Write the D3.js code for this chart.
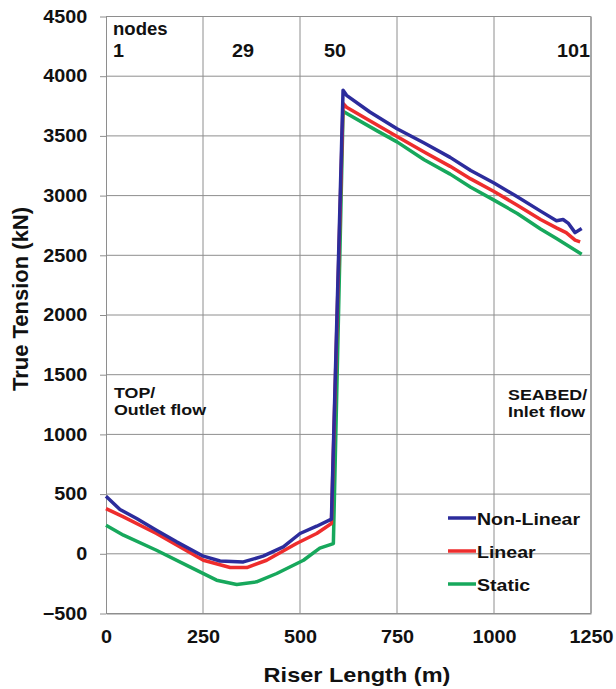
<!DOCTYPE html>
<html>
<head>
<meta charset="utf-8">
<script src="https://cdn.jsdelivr.net/npm/d3@7"></script>
<style>
  body { margin: 0; background: #fff; }
  text { font-family: "Liberation Sans", Arial, sans-serif; font-weight: bold; fill: #111; }
</style>
</head>
<body>
<svg id="chart" width="616" height="689"></svg>
<script>
// Riser length (m) and true tension (kN) along the riser, per analysis type
const nonLinearLength  = [0, 36, 79, 130, 182, 251, 294, 354, 405, 457, 500, 543, 581,
                          611, 620, 680, 750, 820, 887, 940, 1000, 1060, 1120, 1161, 1178, 1191, 1209, 1226];
const nonLinearTension = [482, 371, 296, 198, 100, -20, -60, -68, -20, 58, 170, 231, 290,
                          3883, 3840, 3700, 3560, 3440, 3320, 3210, 3105, 2990, 2870, 2790, 2800, 2770, 2690, 2725];

const linearLength  = [0, 45, 130, 251, 320, 363, 414, 491, 543, 581,
                       611, 620, 700, 750, 820, 887, 940, 1000, 1060, 1120, 1161, 1186, 1209, 1222];
const linearTension = [379, 309, 170, -54, -115, -115, -54, 86, 170, 254,
                       3771, 3740, 3590, 3495, 3365, 3245, 3140, 3035, 2920, 2800, 2730, 2690, 2627, 2612];

const staticLength  = [0, 45, 130, 216, 285, 337, 388, 440, 509, 551, 586,
                       611, 625, 700, 750, 820, 887, 940, 1000, 1060, 1120, 1161, 1226];
const staticTension = [240, 156, 30, -110, -221, -257, -235, -165, -54, 47, 86,
                       3707, 3680, 3540, 3450, 3300, 3180, 3070, 2962, 2850, 2720, 2640, 2509];

const seriesNames  = ["Non-Linear", "Linear", "Static"];
const seriesColors = ["#2c2c9c", "#ee2d2d", "#17a85c"];

const xTicks = [0, 250, 500, 750, 1000, 1250];
const yTicks = [-500, 0, 500, 1000, 1500, 2000, 2500, 3000, 3500, 4000, 4500];

// Node numbers marked along the top of the plot
const nodeLabels = ["1", "29", "50", "101"];
const nodeLength = [0, 353, 590, 1250];

const svg = d3.select("#chart");
const margin = { left: 106, top: 16.5, right: 25, bottom: 75.5 };
const W = 616 - margin.left - margin.right;
const H = 689 - margin.top - margin.bottom;

const x = d3.scaleLinear().domain([0, 1250]).range([0, W]);
const y = d3.scaleLinear().domain([-500, 4500]).range([H, 0]);

const g = svg.append("g").attr("transform", `translate(${margin.left},${margin.top})`);

// Grid lines
const gridColor = "#8e8e8e";
g.append("g").selectAll("line").data(yTicks).join("line")
  .attr("x1", 0).attr("x2", W)
  .attr("y1", d => y(d)).attr("y2", d => y(d))
  .attr("stroke", gridColor).attr("stroke-width", 1);
g.append("g").selectAll("line").data(xTicks.slice(1)).join("line")
  .attr("x1", d => x(d)).attr("x2", d => x(d))
  .attr("y1", 0).attr("y2", H)
  .attr("stroke", d => d === 1250 ? "#a8a8a8" : gridColor)
  .attr("stroke-width", d => d === 1250 ? 2 : 1);

// Axes
const stretch = "scale(1.1,1)";
const fmt = d3.format("d");
const yAxis = g.append("g")
  .call(d3.axisLeft(y).tickValues(yTicks).tickFormat(fmt).tickSize(6).tickPadding(11).tickSizeOuter(0));
yAxis.selectAll("path, line").attr("stroke", gridColor);
yAxis.selectAll("text").attr("font-size", 18).attr("fill", "#111")
  .attr("font-family", null).attr("transform", stretch);

const xAxis = g.append("g").attr("transform", `translate(0,${H})`)
  .call(d3.axisBottom(x).tickValues(xTicks).tickFormat(fmt).tickSize(0).tickPadding(17).tickSizeOuter(0));
xAxis.selectAll("path, line").attr("stroke", gridColor);
xAxis.selectAll("text").attr("font-size", 18).attr("fill", "#111")
  .attr("font-family", null).attr("transform", stretch);

// Series lines
const lengths  = [nonLinearLength, linearLength, staticLength];
const tensions = [nonLinearTension, linearTension, staticTension];
const line = d3.line().x(d => x(d[0])).y(d => y(d[1])).curve(d3.curveLinear);
[2, 1, 0].forEach(i => {
  const pts = lengths[i].map((L, k) => [L, tensions[i][k]]);
  g.append("path").datum(pts)
    .attr("d", line)
    .attr("fill", "none")
    .attr("stroke", seriesColors[i])
    .attr("stroke-width", 3.5)
    .attr("stroke-linejoin", "round");
});

// Helper for horizontally stretched text
function label(parent, tx, ty, str, size, anchor, sx) {
  return parent.append("text")
    .attr("transform", `translate(${tx},${ty}) scale(${sx},1)`)
    .attr("text-anchor", anchor)
    .attr("font-size", size)
    .text(str);
}

// Node annotations
label(g, 7, 35 - margin.top, "nodes", 18, "start", 1.03);
const nodeAnchor = ["start", "middle", "middle", "end"];
const nodeDx = [7, 0, 0, -1];
nodeLabels.forEach((t, i) => {
  label(g, x(nodeLength[i]) + nodeDx[i], 57 - margin.top, t, 18, nodeAnchor[i], 1.1);
});

// End annotations
label(g, 8, 397.5 - margin.top, "TOP/", 15.5, "start", 1.15);
label(g, 8, 414.5 - margin.top, "Outlet flow", 15.5, "start", 1.15);
label(g, 402, 399.5 - margin.top, "SEABED/", 15.5, "start", 1.15);
label(g, 402, 416.5 - margin.top, "Inlet flow", 15.5, "start", 1.15);

// Legend
const legendY = [518, 551, 584];
seriesNames.forEach((name, i) => {
  const ly = legendY[i] - margin.top;
  g.append("line")
    .attr("x1", 448 - margin.left).attr("x2", 476 - margin.left)
    .attr("y1", ly).attr("y2", ly)
    .attr("stroke", seriesColors[i]).attr("stroke-width", 3.5);
  label(g, 477 - margin.left, ly + 6.5, name, 17, "start", 1.15);
});

// Axis titles
svg.append("text")
  .attr("transform", "translate(357,682) scale(1.12,1)")
  .attr("text-anchor", "middle").attr("font-size", 21)
  .text("Riser Length (m)");
svg.append("text")
  .attr("transform", "translate(28,299) rotate(-90)")
  .attr("text-anchor", "middle").attr("font-size", 22)
  .text("True Tension (kN)");
</script>
</body>
</html>
